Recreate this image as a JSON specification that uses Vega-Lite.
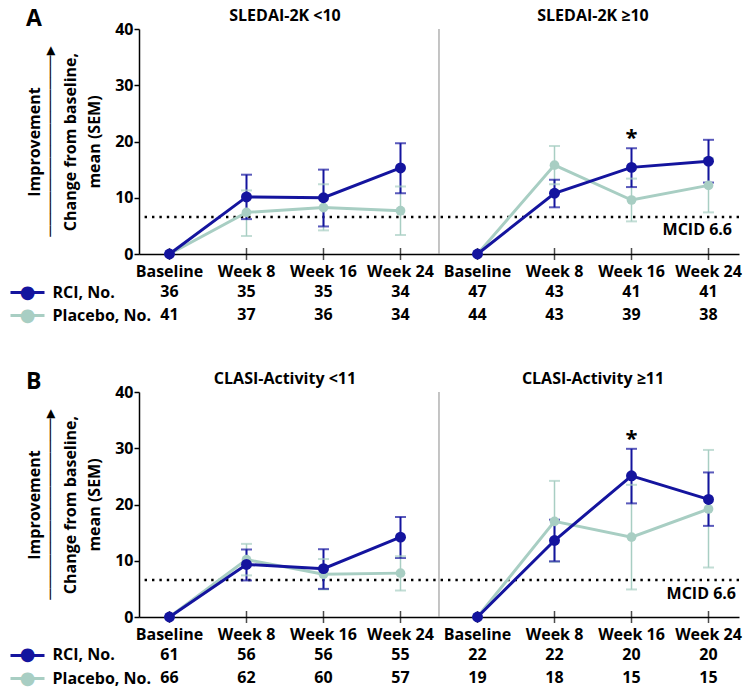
{
  "$schema": "https://vega.github.io/schema/vega-lite/v6.json",
  "padding": {"left": 8, "top": 7, "right": 5, "bottom": 5},
  "bounds": "flush",
  "spacing": 35,
  "config": {
    "font": "Open Sans",
    "view": {"stroke": null},
    "axis": {"labelColor": "black", "titleColor": "black", "domainColor": "black", "tickColor": "black", "domainWidth": 1.5, "tickWidth": 1.5, "labelFont": "Open Sans", "titleFont": "Open Sans", "labelFontWeight": "bold", "titleFontWeight": "bold", "labelFontSize": 16, "titleFontSize": 16, "grid": false},
    "title": {"font": "Open Sans", "color": "black"},
    "text": {"font": "Open Sans", "color": "black"}
  },
  "datasets": {
    "pts": [
      {"panel": "A", "group": "SLEDAI-2K <10", "visit": "Baseline", "arm": "Placebo", "mean": 0, "lo": 0, "hi": 0},
      {"panel": "A", "group": "SLEDAI-2K <10", "visit": "Week 8", "arm": "Placebo", "mean": 7.4, "lo": 3.2, "hi": 11.3},
      {"panel": "A", "group": "SLEDAI-2K <10", "visit": "Week 16", "arm": "Placebo", "mean": 8.25, "lo": 4.2, "hi": 12.4},
      {"panel": "A", "group": "SLEDAI-2K <10", "visit": "Week 24", "arm": "Placebo", "mean": 7.7, "lo": 3.4, "hi": 12.0},
      {"panel": "A", "group": "SLEDAI-2K ≥10", "visit": "Baseline", "arm": "Placebo", "mean": 0, "lo": 0, "hi": 0},
      {"panel": "A", "group": "SLEDAI-2K ≥10", "visit": "Week 8", "arm": "Placebo", "mean": 15.8, "lo": 12.4, "hi": 19.2},
      {"panel": "A", "group": "SLEDAI-2K ≥10", "visit": "Week 16", "arm": "Placebo", "mean": 9.6, "lo": 5.8, "hi": 13.4},
      {"panel": "A", "group": "SLEDAI-2K ≥10", "visit": "Week 24", "arm": "Placebo", "mean": 12.2, "lo": 7.4, "hi": 17.0},
      {"panel": "A", "group": "SLEDAI-2K <10", "visit": "Baseline", "arm": "RCI", "mean": 0, "lo": 0, "hi": 0},
      {"panel": "A", "group": "SLEDAI-2K <10", "visit": "Week 8", "arm": "RCI", "mean": 10.15, "lo": 6.2, "hi": 14.1},
      {"panel": "A", "group": "SLEDAI-2K <10", "visit": "Week 16", "arm": "RCI", "mean": 10.0, "lo": 4.9, "hi": 15.0},
      {"panel": "A", "group": "SLEDAI-2K <10", "visit": "Week 24", "arm": "RCI", "mean": 15.3, "lo": 10.8, "hi": 19.7},
      {"panel": "A", "group": "SLEDAI-2K ≥10", "visit": "Baseline", "arm": "RCI", "mean": 0, "lo": 0, "hi": 0},
      {"panel": "A", "group": "SLEDAI-2K ≥10", "visit": "Week 8", "arm": "RCI", "mean": 10.8, "lo": 8.3, "hi": 13.2},
      {"panel": "A", "group": "SLEDAI-2K ≥10", "visit": "Week 16", "arm": "RCI", "mean": 15.4, "lo": 11.9, "hi": 18.8, "sig": "*"},
      {"panel": "A", "group": "SLEDAI-2K ≥10", "visit": "Week 24", "arm": "RCI", "mean": 16.5, "lo": 12.7, "hi": 20.3},
      {"panel": "B", "group": "CLASI-Activity <11", "visit": "Baseline", "arm": "Placebo", "mean": 0, "lo": 0, "hi": 0},
      {"panel": "B", "group": "CLASI-Activity <11", "visit": "Week 8", "arm": "Placebo", "mean": 10.2, "lo": 7.4, "hi": 13.0},
      {"panel": "B", "group": "CLASI-Activity <11", "visit": "Week 16", "arm": "Placebo", "mean": 7.6, "lo": 4.9, "hi": 10.3},
      {"panel": "B", "group": "CLASI-Activity <11", "visit": "Week 24", "arm": "Placebo", "mean": 7.8, "lo": 4.7, "hi": 10.8},
      {"panel": "B", "group": "CLASI-Activity ≥11", "visit": "Baseline", "arm": "Placebo", "mean": 0, "lo": 0, "hi": 0},
      {"panel": "B", "group": "CLASI-Activity ≥11", "visit": "Week 8", "arm": "Placebo", "mean": 17.0, "lo": 9.8, "hi": 24.2},
      {"panel": "B", "group": "CLASI-Activity ≥11", "visit": "Week 16", "arm": "Placebo", "mean": 14.2, "lo": 4.9, "hi": 23.5},
      {"panel": "B", "group": "CLASI-Activity ≥11", "visit": "Week 24", "arm": "Placebo", "mean": 19.2, "lo": 8.8, "hi": 29.7},
      {"panel": "B", "group": "CLASI-Activity <11", "visit": "Baseline", "arm": "RCI", "mean": 0, "lo": 0, "hi": 0},
      {"panel": "B", "group": "CLASI-Activity <11", "visit": "Week 8", "arm": "RCI", "mean": 9.35, "lo": 6.5, "hi": 12.0},
      {"panel": "B", "group": "CLASI-Activity <11", "visit": "Week 16", "arm": "RCI", "mean": 8.6, "lo": 5.0, "hi": 12.05},
      {"panel": "B", "group": "CLASI-Activity <11", "visit": "Week 24", "arm": "RCI", "mean": 14.2, "lo": 10.5, "hi": 17.8},
      {"panel": "B", "group": "CLASI-Activity ≥11", "visit": "Baseline", "arm": "RCI", "mean": 0, "lo": 0, "hi": 0},
      {"panel": "B", "group": "CLASI-Activity ≥11", "visit": "Week 8", "arm": "RCI", "mean": 13.6, "lo": 9.9, "hi": 17.3},
      {"panel": "B", "group": "CLASI-Activity ≥11", "visit": "Week 16", "arm": "RCI", "mean": 25.1, "lo": 20.2, "hi": 29.9, "sig": "*"},
      {"panel": "B", "group": "CLASI-Activity ≥11", "visit": "Week 24", "arm": "RCI", "mean": 20.9, "lo": 16.2, "hi": 25.7}
    ],
    "counts": [
      {"panel": "A", "group": "SLEDAI-2K <10", "visit": "Baseline", "arm": "RCI", "n": 36},
      {"panel": "A", "group": "SLEDAI-2K <10", "visit": "Week 8", "arm": "RCI", "n": 35},
      {"panel": "A", "group": "SLEDAI-2K <10", "visit": "Week 16", "arm": "RCI", "n": 35},
      {"panel": "A", "group": "SLEDAI-2K <10", "visit": "Week 24", "arm": "RCI", "n": 34},
      {"panel": "A", "group": "SLEDAI-2K ≥10", "visit": "Baseline", "arm": "RCI", "n": 47},
      {"panel": "A", "group": "SLEDAI-2K ≥10", "visit": "Week 8", "arm": "RCI", "n": 43},
      {"panel": "A", "group": "SLEDAI-2K ≥10", "visit": "Week 16", "arm": "RCI", "n": 41},
      {"panel": "A", "group": "SLEDAI-2K ≥10", "visit": "Week 24", "arm": "RCI", "n": 41},
      {"panel": "A", "group": "SLEDAI-2K <10", "visit": "Baseline", "arm": "Placebo", "n": 41},
      {"panel": "A", "group": "SLEDAI-2K <10", "visit": "Week 8", "arm": "Placebo", "n": 37},
      {"panel": "A", "group": "SLEDAI-2K <10", "visit": "Week 16", "arm": "Placebo", "n": 36},
      {"panel": "A", "group": "SLEDAI-2K <10", "visit": "Week 24", "arm": "Placebo", "n": 34},
      {"panel": "A", "group": "SLEDAI-2K ≥10", "visit": "Baseline", "arm": "Placebo", "n": 44},
      {"panel": "A", "group": "SLEDAI-2K ≥10", "visit": "Week 8", "arm": "Placebo", "n": 43},
      {"panel": "A", "group": "SLEDAI-2K ≥10", "visit": "Week 16", "arm": "Placebo", "n": 39},
      {"panel": "A", "group": "SLEDAI-2K ≥10", "visit": "Week 24", "arm": "Placebo", "n": 38},
      {"panel": "B", "group": "CLASI-Activity <11", "visit": "Baseline", "arm": "RCI", "n": 61},
      {"panel": "B", "group": "CLASI-Activity <11", "visit": "Week 8", "arm": "RCI", "n": 56},
      {"panel": "B", "group": "CLASI-Activity <11", "visit": "Week 16", "arm": "RCI", "n": 56},
      {"panel": "B", "group": "CLASI-Activity <11", "visit": "Week 24", "arm": "RCI", "n": 55},
      {"panel": "B", "group": "CLASI-Activity ≥11", "visit": "Baseline", "arm": "RCI", "n": 22},
      {"panel": "B", "group": "CLASI-Activity ≥11", "visit": "Week 8", "arm": "RCI", "n": 22},
      {"panel": "B", "group": "CLASI-Activity ≥11", "visit": "Week 16", "arm": "RCI", "n": 20},
      {"panel": "B", "group": "CLASI-Activity ≥11", "visit": "Week 24", "arm": "RCI", "n": 20},
      {"panel": "B", "group": "CLASI-Activity <11", "visit": "Baseline", "arm": "Placebo", "n": 66},
      {"panel": "B", "group": "CLASI-Activity <11", "visit": "Week 8", "arm": "Placebo", "n": 62},
      {"panel": "B", "group": "CLASI-Activity <11", "visit": "Week 16", "arm": "Placebo", "n": 60},
      {"panel": "B", "group": "CLASI-Activity <11", "visit": "Week 24", "arm": "Placebo", "n": 57},
      {"panel": "B", "group": "CLASI-Activity ≥11", "visit": "Baseline", "arm": "Placebo", "n": 19},
      {"panel": "B", "group": "CLASI-Activity ≥11", "visit": "Week 8", "arm": "Placebo", "n": 18},
      {"panel": "B", "group": "CLASI-Activity ≥11", "visit": "Week 16", "arm": "Placebo", "n": 15},
      {"panel": "B", "group": "CLASI-Activity ≥11", "visit": "Week 24", "arm": "Placebo", "n": 15}
    ],
    "ref": [
      {"panel": "A", "group": "SLEDAI-2K ≥10", "mcid": 6.6, "label": "MCID 6.6"},
      {"panel": "B", "group": "CLASI-Activity ≥11", "mcid": 6.6, "label": "MCID 6.6"}
    ]
  },
  "vconcat": [
    {
      "width": 600, "height": 225,
      "title": {"text": "A", "anchor": "start", "frame": "bounds", "fontSize": 23, "fontWeight": "bold", "offset": -42, "baseline": "alphabetic"},
      "data": {"name": "pts"},
      "transform": [{"filter": "datum.panel == 'A'"}],
      "layer": [
        {
          "data": {"name": "ref"},
          "transform": [{"filter": "datum.panel == 'A'"}],
          "mark": {"type": "rule", "strokeDash": [2.4, 5], "strokeWidth": 2.5, "color": "black"},
          "encoding": {"y": {"field": "mcid", "type": "quantitative", "scale": {"domain": [0, 40], "nice": false}, "axis": {"orient": "left", "offset": 82, "domain": false, "ticks": false, "labels": false, "title": ["Improvement", "────────────────▸"], "titlePadding": 0, "titleLineHeight": 15}}}
        },
        {
          "data": {"name": "ref"},
          "transform": [{"filter": "datum.panel == 'A'"}],
          "mark": {"type": "text", "align": "right", "dx": -7, "dy": 13, "fontSize": 16, "fontWeight": "bold"},
          "encoding": {"x": {"field": "group", "type": "nominal", "bandPosition": 1, "axis": null}, "y": {"field": "mcid", "type": "quantitative", "axis": null}, "text": {"field": "label"}}
        },
        {
          "transform": [{"filter": "datum.arm == 'RCI' && datum.visit == 'Baseline' && indexof(datum.group, '<') >= 0"}],
          "mark": {"type": "rule", "color": "#8a8a8a", "strokeWidth": 1},
          "encoding": {"x": {"field": "group", "type": "nominal", "bandPosition": 1.0274, "scale": {"type": "band", "paddingInner": 0.052, "paddingOuter": 0}, "axis": {"orient": "top", "title": null, "domain": false, "ticks": false, "labelPadding": 6, "labelAngle": 0}}}
        },
        {
          "transform": [{"filter": "datum.arm == 'RCI'"}],
          "mark": {"type": "tick", "orient": "vertical", "size": 12, "thickness": 1.5, "color": "black"},
          "encoding": {"x": {"field": "group", "type": "nominal", "axis": null}, "xOffset": {"field": "visit", "type": "nominal", "scale": {"type": "point", "domain": ["Baseline", "Week 8", "Week 16", "Week 24"], "padding": 0.396}}, "y": {"datum": 0, "type": "quantitative", "axis": null}}
        },
        {
          "transform": [{"filter": "datum.arm == 'RCI'"}],
          "mark": {"type": "text", "fontSize": 16, "fontWeight": "bold", "dy": 18},
          "encoding": {"x": {"field": "group", "type": "nominal", "axis": null}, "xOffset": {"field": "visit", "type": "nominal"}, "y": {"datum": 0, "type": "quantitative", "axis": null}, "text": {"field": "visit"}}
        },
        {
          "transform": [{"filter": "datum.hi > datum.lo"}],
          "mark": {"type": "rule"},
          "encoding": {"x": {"field": "group", "type": "nominal", "axis": null}, "xOffset": {"field": "visit", "type": "nominal"}, "y": {"field": "lo", "type": "quantitative", "axis": null}, "y2": {"field": "hi"}, "color": {"field": "arm", "type": "nominal", "legend": null}, "strokeWidth": {"condition": {"test": "datum.arm == 'RCI'", "value": 2}, "value": 1.5}}
        },
        {
          "transform": [{"filter": "datum.hi > datum.lo"}],
          "mark": {"type": "tick", "orient": "horizontal", "size": 11, "thickness": 2},
          "encoding": {"x": {"field": "group", "type": "nominal", "axis": null}, "xOffset": {"field": "visit", "type": "nominal"}, "y": {"field": "lo", "type": "quantitative", "axis": null}, "color": {"field": "arm", "type": "nominal", "legend": null}}
        },
        {
          "transform": [{"filter": "datum.hi > datum.lo"}],
          "mark": {"type": "tick", "orient": "horizontal", "size": 11, "thickness": 2},
          "encoding": {"x": {"field": "group", "type": "nominal", "axis": null}, "xOffset": {"field": "visit", "type": "nominal"}, "y": {"field": "hi", "type": "quantitative", "axis": null}, "color": {"field": "arm", "type": "nominal", "legend": null}}
        },
        {
          "mark": {"type": "line", "strokeWidth": 3},
          "encoding": {
            "x": {"field": "group", "type": "nominal", "axis": {"orient": "bottom", "title": null, "labels": false, "ticks": false, "domain": true}},
            "xOffset": {"field": "visit", "type": "nominal"},
            "y": {"field": "mean", "type": "quantitative", "scale": {"domain": [0, 40], "nice": false}, "axis": {"orient": "left", "values": [0, 10, 20, 30, 40], "tickSize": 5, "labelPadding": 1, "zindex": 1, "title": ["Change from baseline,", "mean  (SEM)"], "titlePadding": 12, "titleLineHeight": 24}},
            "color": {"field": "arm", "type": "nominal", "scale": {"domain": ["RCI", "Placebo"], "range": ["#14149e", "#a8cec3"]}, "legend": null},
            "detail": {"field": "group"}
          }
        },
        {
          "mark": {"type": "point", "filled": true, "opacity": 1},
          "encoding": {"x": {"field": "group", "type": "nominal", "axis": null}, "xOffset": {"field": "visit", "type": "nominal"}, "y": {"field": "mean", "type": "quantitative", "axis": null}, "color": {"field": "arm", "type": "nominal", "legend": null}, "size": {"condition": {"test": "datum.arm == 'RCI'", "value": 120}, "value": 95}}
        },
        {
          "transform": [{"filter": "datum.sig"}],
          "mark": {"type": "text", "fontSize": 22, "fontWeight": "bold", "dy": -10, "baseline": "middle"},
          "encoding": {"x": {"field": "group", "type": "nominal", "axis": null}, "xOffset": {"field": "visit", "type": "nominal"}, "y": {"field": "hi", "type": "quantitative", "axis": null}, "text": {"field": "sig"}}
        }
      ],
      "resolve": {"axis": {"x": "independent", "y": "independent"}}
    },
    {
      "width": 600, "height": 68,
      "data": {"name": "counts"},
      "transform": [{"filter": "datum.panel == 'A'"}],
      "encoding": {
        "x": {"field": "group", "type": "nominal", "scale": {"type": "band", "paddingInner": 0.052, "paddingOuter": 0}, "axis": null},
        "xOffset": {"field": "visit", "type": "nominal", "scale": {"type": "point", "domain": ["Baseline", "Week 8", "Week 16", "Week 24"], "padding": 0.396}},
        "text": {"field": "n"}
      },
      "layer": [
        {
          "transform": [{"filter": "datum.arm == 'RCI'"}],
          "mark": {"type": "text", "fontSize": 16, "fontWeight": "bold"},
          "encoding": {"y": {"field": "arm", "type": "nominal", "scale": {"type": "point", "domain": ["RCI", "Placebo"], "padding": 0.978, "align": 0.0667}, "axis": {"orient": "left", "domain": false, "ticks": false, "tickSize": 0, "labelAlign": "left", "labelPadding": 87, "labelExpr": "datum.value + ', No.'", "title": null}}}
        },
        {
          "transform": [{"filter": "datum.arm == 'Placebo'"}],
          "mark": {"type": "text", "fontSize": 16, "fontWeight": "bold"},
          "encoding": {"y": {"field": "arm", "type": "nominal", "axis": {"orient": "left", "offset": 95, "domain": false, "ticks": true, "tickSize": 34, "tickWidth": 3, "tickColor": {"condition": {"test": "datum.value == 'RCI'", "value": "#14149e"}, "value": "#a8cec3"}, "labelExpr": "'●'", "labelFont": "DejaVu Sans", "labelFontSize": 18, "labelAlign": "center", "labelPadding": -17, "labelColor": {"condition": {"test": "datum.value == 'RCI'", "value": "#14149e"}, "value": "#a8cec3"}, "title": null}}}
        }
      ],
      "resolve": {"axis": {"y": "independent"}}
    },
    {
      "width": 600, "height": 225,
      "title": {"text": "B", "anchor": "start", "frame": "bounds", "fontSize": 23, "fontWeight": "bold", "offset": -42, "baseline": "alphabetic"},
      "data": {"name": "pts"},
      "transform": [{"filter": "datum.panel == 'B'"}],
      "layer": [
        {
          "data": {"name": "ref"},
          "transform": [{"filter": "datum.panel == 'B'"}],
          "mark": {"type": "rule", "strokeDash": [2.4, 5], "strokeWidth": 2.5, "color": "black"},
          "encoding": {"y": {"field": "mcid", "type": "quantitative", "scale": {"domain": [0, 40], "nice": false}, "axis": {"orient": "left", "offset": 82, "domain": false, "ticks": false, "labels": false, "title": ["Improvement", "────────────────▸"], "titlePadding": 0, "titleLineHeight": 15}}}
        },
        {
          "data": {"name": "ref"},
          "transform": [{"filter": "datum.panel == 'B'"}],
          "mark": {"type": "text", "align": "right", "dx": -3, "dy": 14, "fontSize": 16, "fontWeight": "bold"},
          "encoding": {"x": {"field": "group", "type": "nominal", "bandPosition": 1, "axis": null}, "y": {"field": "mcid", "type": "quantitative", "axis": null}, "text": {"field": "label"}}
        },
        {
          "transform": [{"filter": "datum.arm == 'RCI' && datum.visit == 'Baseline' && indexof(datum.group, '<') >= 0"}],
          "mark": {"type": "rule", "color": "#8a8a8a", "strokeWidth": 1},
          "encoding": {"x": {"field": "group", "type": "nominal", "bandPosition": 1.0274, "scale": {"type": "band", "paddingInner": 0.052, "paddingOuter": 0}, "axis": {"orient": "top", "title": null, "domain": false, "ticks": false, "labelPadding": 6, "labelAngle": 0}}}
        },
        {
          "transform": [{"filter": "datum.arm == 'RCI'"}],
          "mark": {"type": "tick", "orient": "vertical", "size": 12, "thickness": 1.5, "color": "black"},
          "encoding": {"x": {"field": "group", "type": "nominal", "axis": null}, "xOffset": {"field": "visit", "type": "nominal", "scale": {"type": "point", "domain": ["Baseline", "Week 8", "Week 16", "Week 24"], "padding": 0.396}}, "y": {"datum": 0, "type": "quantitative", "axis": null}}
        },
        {
          "transform": [{"filter": "datum.arm == 'RCI'"}],
          "mark": {"type": "text", "fontSize": 16, "fontWeight": "bold", "dy": 18},
          "encoding": {"x": {"field": "group", "type": "nominal", "axis": null}, "xOffset": {"field": "visit", "type": "nominal"}, "y": {"datum": 0, "type": "quantitative", "axis": null}, "text": {"field": "visit"}}
        },
        {
          "transform": [{"filter": "datum.hi > datum.lo"}],
          "mark": {"type": "rule"},
          "encoding": {"x": {"field": "group", "type": "nominal", "axis": null}, "xOffset": {"field": "visit", "type": "nominal"}, "y": {"field": "lo", "type": "quantitative", "axis": null}, "y2": {"field": "hi"}, "color": {"field": "arm", "type": "nominal", "legend": null}, "strokeWidth": {"condition": {"test": "datum.arm == 'RCI'", "value": 2}, "value": 1.5}}
        },
        {
          "transform": [{"filter": "datum.hi > datum.lo"}],
          "mark": {"type": "tick", "orient": "horizontal", "size": 11, "thickness": 2},
          "encoding": {"x": {"field": "group", "type": "nominal", "axis": null}, "xOffset": {"field": "visit", "type": "nominal"}, "y": {"field": "lo", "type": "quantitative", "axis": null}, "color": {"field": "arm", "type": "nominal", "legend": null}}
        },
        {
          "transform": [{"filter": "datum.hi > datum.lo"}],
          "mark": {"type": "tick", "orient": "horizontal", "size": 11, "thickness": 2},
          "encoding": {"x": {"field": "group", "type": "nominal", "axis": null}, "xOffset": {"field": "visit", "type": "nominal"}, "y": {"field": "hi", "type": "quantitative", "axis": null}, "color": {"field": "arm", "type": "nominal", "legend": null}}
        },
        {
          "mark": {"type": "line", "strokeWidth": 3},
          "encoding": {
            "x": {"field": "group", "type": "nominal", "axis": {"orient": "bottom", "title": null, "labels": false, "ticks": false, "domain": true}},
            "xOffset": {"field": "visit", "type": "nominal"},
            "y": {"field": "mean", "type": "quantitative", "scale": {"domain": [0, 40], "nice": false}, "axis": {"orient": "left", "values": [0, 10, 20, 30, 40], "tickSize": 5, "labelPadding": 1, "zindex": 1, "title": ["Change from baseline,", "mean  (SEM)"], "titlePadding": 12, "titleLineHeight": 24}},
            "color": {"field": "arm", "type": "nominal", "scale": {"domain": ["RCI", "Placebo"], "range": ["#14149e", "#a8cec3"]}, "legend": null},
            "detail": {"field": "group"}
          }
        },
        {
          "mark": {"type": "point", "filled": true, "opacity": 1},
          "encoding": {"x": {"field": "group", "type": "nominal", "axis": null}, "xOffset": {"field": "visit", "type": "nominal"}, "y": {"field": "mean", "type": "quantitative", "axis": null}, "color": {"field": "arm", "type": "nominal", "legend": null}, "size": {"condition": {"test": "datum.arm == 'RCI'", "value": 120}, "value": 95}}
        },
        {
          "transform": [{"filter": "datum.sig"}],
          "mark": {"type": "text", "fontSize": 22, "fontWeight": "bold", "dy": -10, "baseline": "middle"},
          "encoding": {"x": {"field": "group", "type": "nominal", "axis": null}, "xOffset": {"field": "visit", "type": "nominal"}, "y": {"field": "hi", "type": "quantitative", "axis": null}, "text": {"field": "sig"}}
        }
      ],
      "resolve": {"axis": {"x": "independent", "y": "independent"}}
    },
    {
      "width": 600, "height": 30,
      "data": {"name": "counts"},
      "transform": [{"filter": "datum.panel == 'B'"}],
      "encoding": {
        "x": {"field": "group", "type": "nominal", "scale": {"type": "band", "paddingInner": 0.052, "paddingOuter": 0}, "axis": null},
        "xOffset": {"field": "visit", "type": "nominal", "scale": {"type": "point", "domain": ["Baseline", "Week 8", "Week 16", "Week 24"], "padding": 0.396}},
        "text": {"field": "n"}
      },
      "layer": [
        {
          "transform": [{"filter": "datum.arm == 'RCI'"}],
          "mark": {"type": "text", "fontSize": 16, "fontWeight": "bold"},
          "encoding": {"y": {"field": "arm", "type": "nominal", "scale": {"type": "point", "domain": ["RCI", "Placebo"], "padding": 0.152, "align": 0.4286}, "axis": {"orient": "left", "domain": false, "ticks": false, "tickSize": 0, "labelAlign": "left", "labelPadding": 87, "labelExpr": "datum.value + ', No.'", "title": null}}}
        },
        {
          "transform": [{"filter": "datum.arm == 'Placebo'"}],
          "mark": {"type": "text", "fontSize": 16, "fontWeight": "bold"},
          "encoding": {"y": {"field": "arm", "type": "nominal", "axis": {"orient": "left", "offset": 95, "domain": false, "ticks": true, "tickSize": 34, "tickWidth": 3, "tickColor": {"condition": {"test": "datum.value == 'RCI'", "value": "#14149e"}, "value": "#a8cec3"}, "labelExpr": "'●'", "labelFont": "DejaVu Sans", "labelFontSize": 18, "labelAlign": "center", "labelPadding": -17, "labelColor": {"condition": {"test": "datum.value == 'RCI'", "value": "#14149e"}, "value": "#a8cec3"}, "title": null}}}
        }
      ],
      "resolve": {"axis": {"y": "independent"}}
    }
  ]
}
